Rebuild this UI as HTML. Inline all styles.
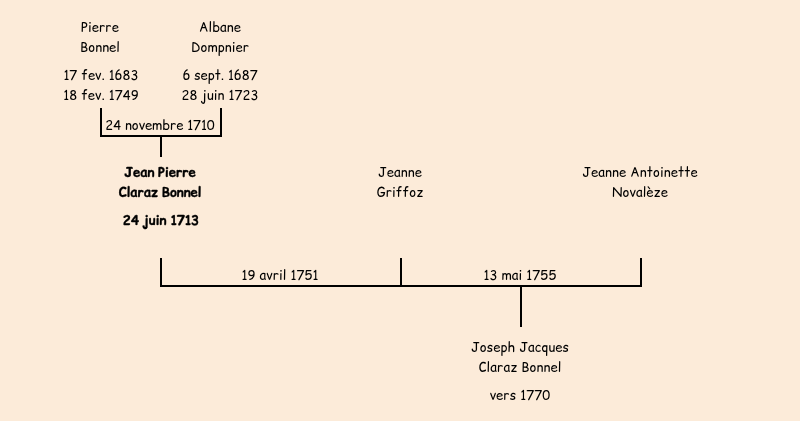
<!DOCTYPE html>
<html lang="fr">
<head>
<meta charset="utf-8">
<title>Arbre</title>
<style>
html,body{margin:0;padding:0}
body{width:800px;height:421px;background:#fcebd9;position:relative;overflow:hidden;
 font-family:"Comic Relief","Liberation Sans",sans-serif;font-size:13px;color:#000}
.t{will-change:transform;position:absolute;width:240px;margin-left:-120px;text-align:center;line-height:20px;height:20px;white-space:nowrap}
.t{letter-spacing:.12px}
.b{font-weight:bold;letter-spacing:0}
.b span{line-height:normal;-webkit-text-stroke:calc((1lh - 15px)*.1) #000;word-spacing:calc((1lh - 15px)*-.587)}
.b i{font-style:normal;margin:0 calc((1lh - 15px)*-.467) 0 calc((1lh - 15px)*-.233)}
.l{position:absolute;background:#000}
</style>
</head>
<body>
<div class="t" style="left:100px;top:17px">Pierre</div>
<div class="t" style="left:100px;top:37px">Bonnel</div>
<div class="t" style="left:100.5px;top:65px;letter-spacing:.06px">17 fev. 1683</div>
<div class="t" style="left:100.5px;top:85px;letter-spacing:.08px">18 fev. 1749</div>

<div class="t" style="left:220px;top:17px">Albane</div>
<div class="t" style="left:220px;top:37px">Dompnier</div>
<div class="t" style="left:219.5px;top:65px;letter-spacing:0">6 sept. 1687</div>
<div class="t" style="left:220px;top:85px">28 juin 1723</div>

<div class="t" style="left:160px;top:115px;letter-spacing:0">24 novembre 1710</div>

<div class="l" style="left:100px;top:108px;width:2px;height:29px"></div>
<div class="l" style="left:220px;top:108px;width:2px;height:29px"></div>
<div class="l" style="left:100px;top:135px;width:122px;height:2px"></div>
<div class="l" style="left:160px;top:135px;width:2px;height:22px"></div>

<div class="t b" style="left:160px;top:162px"><span>Jean Pierre</span></div>
<div class="t b" style="left:160px;top:182px"><span>Claraz Bonnel</span></div>
<div class="t b" style="left:160.5px;top:210px;letter-spacing:.22px"><span>24 juin <i>1</i>7<i>1</i>3</span></div>

<div class="t" style="left:400px;top:162px">Jeanne</div>
<div class="t" style="left:400px;top:182px">Griffoz</div>

<div class="t" style="left:640px;top:162px">Jeanne Antoinette</div>
<div class="t" style="left:640px;top:182px">Novalèze</div>

<div class="t" style="left:280px;top:265px">19 avril 1751</div>
<div class="t" style="left:520px;top:265px">13 mai 1755</div>

<div class="l" style="left:160px;top:258px;width:2px;height:29px"></div>
<div class="l" style="left:400px;top:258px;width:2px;height:29px"></div>
<div class="l" style="left:640px;top:258px;width:2px;height:29px"></div>
<div class="l" style="left:160px;top:285px;width:482px;height:2px"></div>
<div class="l" style="left:520px;top:285px;width:2px;height:42px"></div>

<div class="t" style="left:520px;top:337px">Joseph Jacques</div>
<div class="t" style="left:520px;top:357px">Claraz Bonnel</div>
<div class="t" style="left:520px;top:385px">vers 1770</div>
</body>
</html>
